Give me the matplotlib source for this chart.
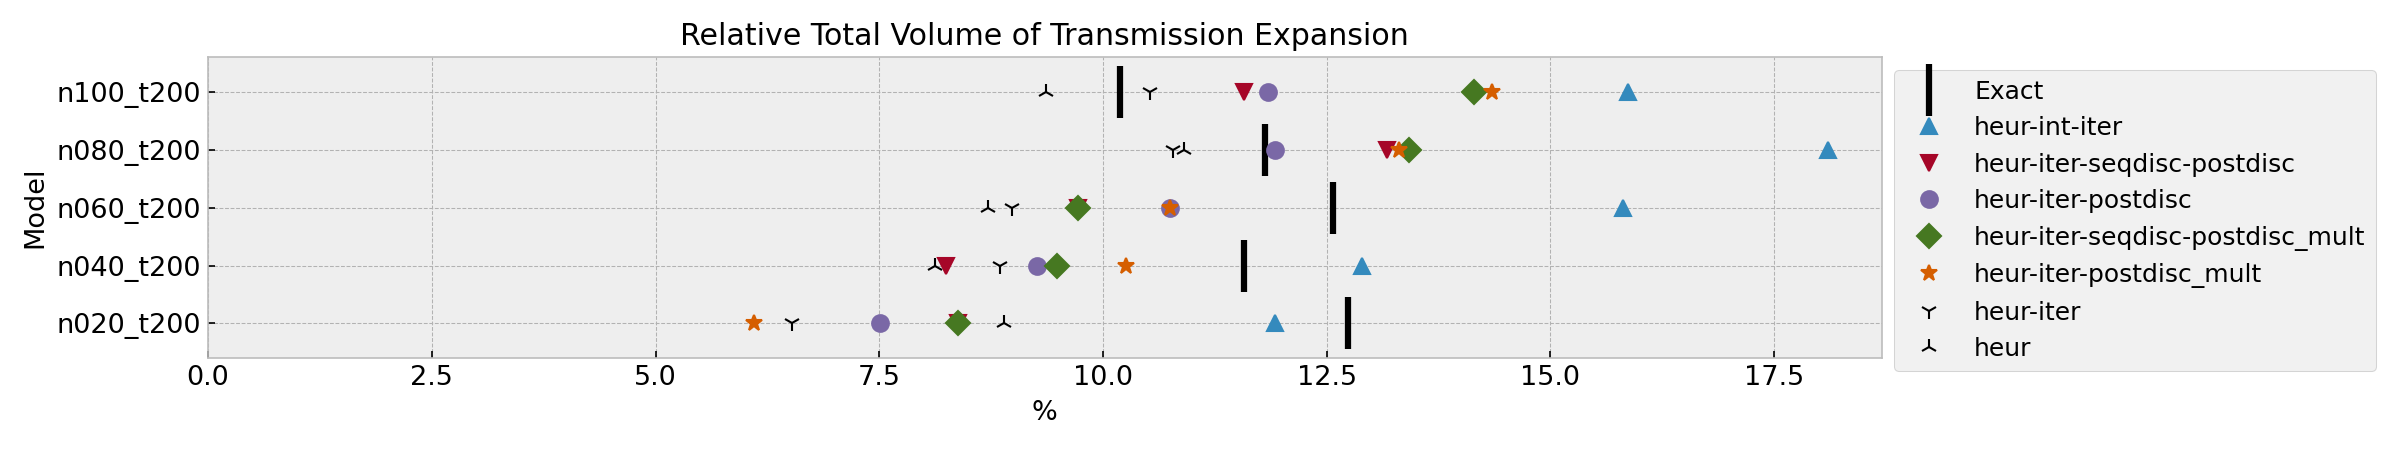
import numpy as np
import matplotlib
matplotlib.use("Agg")
import matplotlib.pyplot as plt

models = ["n020_t200", "n040_t200", "n060_t200", "n080_t200", "n100_t200"]

# relative volume (%) per method, ordered like models
exact = [12.74, 11.57, 12.57, 11.81, 10.19]
heur_int_iter = [11.92, 12.89, 15.81, 18.10, 15.87]
heur_iter_seqdisc_postdisc = [8.38, 8.24, 9.72, 13.17, 11.57]
heur_iter_postdisc = [7.51, 9.26, 10.75, 11.92, 11.84]
heur_iter_seqdisc_postdisc_mult = [8.38, 9.49, 9.72, 13.42, 14.14]
heur_iter_postdisc_mult = [6.10, 10.26, 10.75, 13.31, 14.35]
heur_iter = [6.52, 8.85, 8.98, 10.78, 10.52]
heur = [8.89, 8.12, 8.72, 10.91, 9.36]

plt.style.use('bmh')
plt.rcParams['font.size'] = 13

fig, ax = plt.subplots(figsize=(16, 3), dpi=150)
fig.subplots_adjust(left=0.0867, right=0.784, top=0.873, bottom=0.204)

y = np.arange(len(models))
ms = 8
ax.plot(exact, y, '|', color='black', ms=25, mew=3, label='Exact')
ax.plot(heur_int_iter, y, '^', color='#348ABD', ms=ms, label='heur-int-iter')
ax.plot(heur_iter_seqdisc_postdisc, y, 'v', color='#A60628', ms=ms, label='heur-iter-seqdisc-postdisc')
ax.plot(heur_iter_postdisc, y, 'o', color='#7A68A6', ms=ms, label='heur-iter-postdisc')
ax.plot(heur_iter_seqdisc_postdisc_mult, y, 'D', color='#467821', ms=ms, label='heur-iter-seqdisc-postdisc_mult')
ax.plot(heur_iter_postdisc_mult, y, '*', color='#D55E00', ms=ms, label='heur-iter-postdisc_mult')
ax.plot(heur_iter, y, '1', color='black', ms=ms, label='heur-iter')
ax.plot(heur, y, '2', color='black', ms=ms, label='heur')

ax.set_yticks(y)
ax.set_yticklabels(models)
ax.set_ylim(-0.6, 4.6)
ax.set_xlim(0, 18.7)
ax.set_xlabel('%', fontsize=13)
ax.set_ylabel('Model', fontsize=13)
ax.set_title('Relative Total Volume of Transmission Expansion', fontsize=14.4)
ax.legend(loc='upper left', bbox_to_anchor=(1, 1), fontsize=12)

plt.savefig('out.png')
